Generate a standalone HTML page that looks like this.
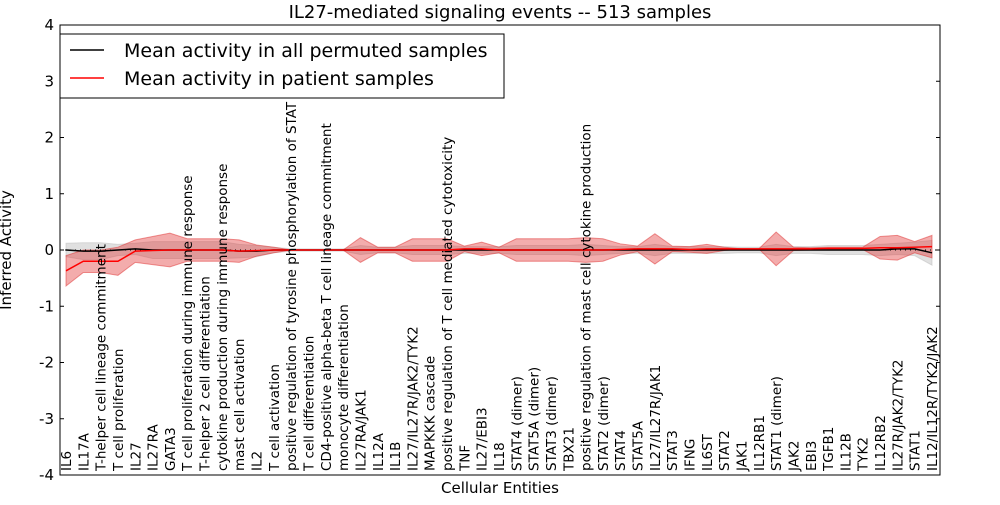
<!DOCTYPE html>
<html><head><meta charset="utf-8"><style>
body{margin:0;background:#fff;}
svg text{font-family:"DejaVu Sans","Liberation Sans",sans-serif;}
</style></head><body>
<svg id="chart" width="1000" height="500" xmlns="http://www.w3.org/2000/svg">
<text x="500" y="18" text-anchor="middle" font-size="18">IL27-mediated signaling events -- 513 samples</text>
<g id="plot"></g>
<text x="500" y="493" text-anchor="middle" font-size="15">Cellular Entities</text>
<text transform="translate(11,250) rotate(-90)" text-anchor="middle" font-size="15">Inferred Activity</text>
</svg>
<script>
const categories=["IL6","IL17A","T-helper cell lineage commitment","T cell proliferation","IL27","IL27RA","GATA3","T cell proliferation during immune response","T-helper 2 cell differentiation","cytokine production during immune response","mast cell activation","IL2","T cell activation","positive regulation of tyrosine phosphorylation of STAT","T cell differentiation","CD4-positive alpha-beta T cell lineage commitment","monocyte differentiation","IL27RA/JAK1","IL12A","IL1B","IL27/IL27R/JAK2/TYK2","MAPKKK cascade","positive regulation of T cell mediated cytotoxicity","TNF","IL27/EBI3","IL18","STAT4 (dimer)","STAT5A (dimer)","STAT3 (dimer)","TBX21","positive regulation of mast cell cytokine production","STAT2 (dimer)","STAT4","STAT5A","IL27/IL27R/JAK1","STAT3","IFNG","IL6ST","STAT2","JAK1","IL12RB1","STAT1 (dimer)","JAK2","EBI3","TGFB1","IL12B","TYK2","IL12RB2","IL27R/JAK2/TYK2","STAT1","IL12/IL12R/TYK2/JAK2"];
const patientMean=[-0.37,-0.2,-0.2,-0.2,-0.02,-0.01,0,0,0,0,-0.02,-0.01,0,0,0,0,0,0,0,0,0,0,0,0.02,0.02,0,0,0,0,0,0,0,0.01,0.02,0.02,0.02,0.01,0.02,0.02,0.02,0.02,0.02,0.02,0.02,0.03,0.03,0.03,0.04,0.04,0.05,0.06];
const patientSpread=[0.27,0.2,0.2,0.25,0.2,0.25,0.3,0.2,0.2,0.2,0.2,0.1,0.05,0,0,0,0,0.22,0.05,0.05,0.2,0.2,0.2,0.05,0.12,0.05,0.2,0.2,0.2,0.2,0.22,0.2,0.1,0.05,0.27,0.05,0.05,0.08,0.03,0,0,0.3,0.03,0.02,0.02,0.02,0.02,0.2,0.22,0.1,0.2];
const permMean=[0,-0.02,-0.02,0,0.02,0,0,0,0,0,-0.02,-0.02,0,0,0,0,0,0,0,0,0,0,0,0,0,0,0,0,0,0,0,0,0,0,0,0,0,0,0,0,0,0,0,0,0,0,0,0,0.02,0.02,-0.05];
const permSpread=[0.12,0.15,0.15,0.1,0.1,0.15,0.15,0.15,0.15,0.15,0.12,0.1,0.05,0.02,0.02,0.02,0.02,0.08,0.05,0.05,0.08,0.08,0.08,0.06,0.06,0.06,0.08,0.08,0.08,0.08,0.1,0.08,0.06,0.06,0.1,0.06,0.06,0.06,0.06,0.05,0.05,0.1,0.06,0.06,0.08,0.08,0.08,0.1,0.1,0.12,0.22];
const yTicks=[-4,-3,-2,-1,0,1,2,3,4];
const L=60,R=940,T=25,B=475,NS="http://www.w3.org/2000/svg";
const xs=i=>66+i*(932-66)/(categories.length-1);
const ys=v=>250-v*(B-T)/8;
const g=document.getElementById('plot');
function mk(t,a){const e=document.createElementNS(NS,t);for(const k in a)e.setAttribute(k,a[k]);g.appendChild(e);return e;}
function band(m,s,fill,op,name){let up=m.map((v,i)=>xs(i)+','+ys(v+s[i]));let dn=m.map((v,i)=>xs(i)+','+ys(v-s[i])).reverse();
const p=mk('polygon',{points:up.concat(dn).join(' '),fill:fill,'fill-opacity':op,stroke:fill,'stroke-opacity':0.5});

}
band(permMean,permSpread,'#bbbbbb',0.45,'permuted-band');
band(patientMean,patientSpread,'#e03030',0.4,'patient-band');
let pl=mk('polyline',{points:permMean.map((v,i)=>xs(i)+','+ys(v)).join(' '),fill:'none',stroke:'#000','stroke-width':1.5});


let dl=mk('line',{x1:L,x2:R,y1:ys(0),y2:ys(0),stroke:'#000','stroke-dasharray':'1,4'});


let rl=mk('polyline',{points:patientMean.map((v,i)=>xs(i)+','+ys(v)).join(' '),fill:'none',stroke:'#ff0000','stroke-width':1.5});


let fr=mk('rect',{x:L,y:T,width:R-L,height:B-T,fill:'none',stroke:'#000'});


yTicks.forEach(t=>{
 let tk=mk('line',{x1:L,x2:L+4,y1:ys(t),y2:ys(t),stroke:'#000'});
 
 
 let tk2=mk('line',{x1:R-4,x2:R,y1:ys(t),y2:ys(t),stroke:'#000'});
 
 
 let tx=mk('text',{x:L-6,y:ys(t)+5,'text-anchor':'end','font-size':15});
 tx.textContent=t;
 
 
});
categories.forEach((c,i)=>{
 let tx=mk('text',{transform:`translate(${xs(i)+5},471) rotate(-90)`,'font-size':13.5});
 tx.textContent=c;
 
 
});
let lg=mk('rect',{x:60,y:34,width:444,height:64,fill:'#fff',stroke:'#000'});


let l1=mk('line',{x1:70,x2:104,y1:50,y2:50,stroke:'#000','stroke-width':1.5});


let t1=mk('text',{x:124,y:57,'font-size':19});t1.textContent='Mean activity in all permuted samples';


let l2=mk('line',{x1:70,x2:104,y1:78,y2:78,stroke:'#ff0000','stroke-width':1.5});


let t2=mk('text',{x:124,y:85,'font-size':19});t2.textContent='Mean activity in patient samples';


</script>
</body></html>
